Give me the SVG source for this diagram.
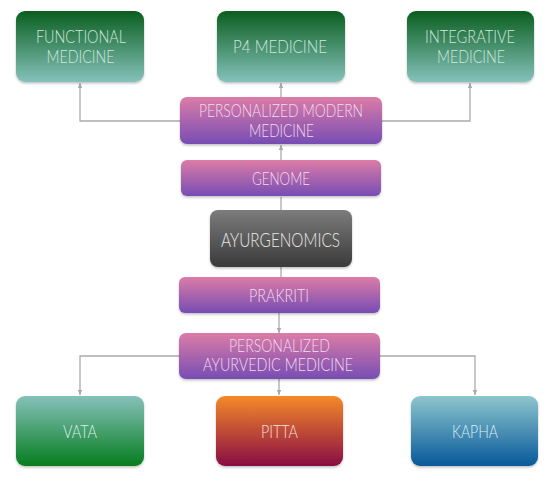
<svg xmlns="http://www.w3.org/2000/svg" width="550" height="481" viewBox="0 0 550 481">
<defs>
<linearGradient id="gGreen" x1="0" y1="0" x2="0" y2="1"><stop offset="0" stop-color="#0b5e1f"/><stop offset="1" stop-color="#84c2bb"/></linearGradient>
<linearGradient id="gPurple" x1="0" y1="0" x2="0" y2="1"><stop offset="0" stop-color="#dc7ca6"/><stop offset="1" stop-color="#774db4"/></linearGradient>
<linearGradient id="gGray" x1="0" y1="0" x2="0" y2="1"><stop offset="0" stop-color="#7c7c7c"/><stop offset="1" stop-color="#3a3a3a"/></linearGradient>
<linearGradient id="gVata" x1="0" y1="0" x2="0" y2="1"><stop offset="0" stop-color="#86c1bb"/><stop offset="1" stop-color="#067d1f"/></linearGradient>
<linearGradient id="gPitta" x1="0" y1="0" x2="0" y2="1"><stop offset="0" stop-color="#f58a28"/><stop offset="1" stop-color="#880d44"/></linearGradient>
<linearGradient id="gKapha" x1="0" y1="0" x2="0" y2="1"><stop offset="0" stop-color="#8ec6cd"/><stop offset="1" stop-color="#07589a"/></linearGradient>
<marker id="arr" markerWidth="6" markerHeight="6" refX="5" refY="3" orient="auto" markerUnits="userSpaceOnUse"><path d="M0,0.8 L5,3 L0,5.2 Z" fill="#a8a8a8"/></marker>
<filter id="sh" x="-10%" y="-10%" width="120%" height="130%"><feDropShadow dx="0" dy="1.5" stdDeviation="1.2" flood-color="#000" flood-opacity="0.25"/></filter>
</defs>
<style>
text{font-family:Lato,"Open Sans","Liberation Sans",sans-serif;font-size:17.5px;font-weight:300;text-anchor:middle}
.tg{fill:#cfe7dd}
.tp{fill:#f3dcee}
.tw{fill:#e8e8e8}
.tv{fill:#d9efe6}
.tk{fill:#d9eef2}
.tpi{fill:#f6dfe0}
.c{fill:none;stroke:#ababab;stroke-width:1.3}
</style>
<g id="connectors">
<path class="c" d="M181,121 H80 V83" marker-end="url(#arr)"/>
<path class="c" d="M382,121 H470 V83" marker-end="url(#arr)"/>
<path class="c" d="M281,97 V83" marker-end="url(#arr)"/>
<path class="c" d="M281,160 V145" marker-end="url(#arr)"/>
<path class="c" d="M281,210 V197"/>
<path class="c" d="M281,267 V277"/>
<path class="c" d="M279,313 V333" marker-end="url(#arr)"/>
<path class="c" d="M179,356 H80 V395" marker-end="url(#arr)"/>
<path class="c" d="M279,379 V395" marker-end="url(#arr)"/>
<path class="c" d="M380,356 H475 V395" marker-end="url(#arr)"/>
</g>
<g id="functional"><rect x="16" y="11" width="128" height="71" rx="9" fill="url(#gGreen)" filter="url(#sh)"/><text class="tg" x="81" y="42.7" textLength="90" lengthAdjust="spacingAndGlyphs">FUNCTIONAL</text><text class="tg" x="80.5" y="62.7" textLength="68" lengthAdjust="spacingAndGlyphs">MEDICINE</text></g>
<g id="p4"><rect x="217" y="11" width="128" height="71" rx="9" fill="url(#gGreen)" filter="url(#sh)"/><text class="tg" x="280" y="53.3" textLength="94" lengthAdjust="spacingAndGlyphs">P4 MEDICINE</text></g>
<g id="integrative"><rect x="407" y="11" width="127" height="71" rx="9" fill="url(#gGreen)" filter="url(#sh)"/><text class="tg" x="470" y="42.7" textLength="90" lengthAdjust="spacingAndGlyphs">INTEGRATIVE</text><text class="tg" x="471" y="62.7" textLength="68" lengthAdjust="spacingAndGlyphs">MEDICINE</text></g>
<g id="pmm"><rect x="180" y="97" width="202" height="47" rx="7" fill="url(#gPurple)" filter="url(#sh)"/><text class="tp" x="281" y="117" textLength="164" lengthAdjust="spacingAndGlyphs">PERSONALIZED MODERN</text><text class="tp" x="281.5" y="137" textLength="65" lengthAdjust="spacingAndGlyphs">MEDICINE</text></g>
<g id="genome"><rect x="181" y="160" width="200" height="36" rx="6" fill="url(#gPurple)" filter="url(#sh)"/><text class="tp" x="281" y="185" textLength="58" lengthAdjust="spacingAndGlyphs">GENOME</text></g>
<g id="ayurgenomics"><rect x="210" y="210" width="142" height="57" rx="8" fill="url(#gGray)" filter="url(#sh)"/><text class="tw" x="280.5" y="246.7" style="font-size:19.5px" textLength="119" lengthAdjust="spacingAndGlyphs">AYURGENOMICS</text></g>
<g id="prakriti"><rect x="179" y="277" width="201" height="36" rx="6" fill="url(#gPurple)" filter="url(#sh)"/><text class="tp" x="279" y="302" textLength="60" lengthAdjust="spacingAndGlyphs">PRAKRITI</text></g>
<g id="pam"><rect x="179" y="333" width="201" height="46" rx="7" fill="url(#gPurple)" filter="url(#sh)"/><text class="tp" x="279.5" y="352" textLength="101" lengthAdjust="spacingAndGlyphs">PERSONALIZED</text><text class="tp" x="278" y="371" textLength="150" lengthAdjust="spacingAndGlyphs">AYURVEDIC  MEDICINE</text></g>
<g id="vata"><rect x="16" y="396" width="128" height="70" rx="9" fill="url(#gVata)" filter="url(#sh)"/><text class="tv" x="80" y="438" textLength="34" lengthAdjust="spacingAndGlyphs">VATA</text></g>
<g id="pitta"><rect x="216" y="396" width="127" height="70" rx="9" fill="url(#gPitta)" filter="url(#sh)"/><text class="tpi" x="279.5" y="438" textLength="37" lengthAdjust="spacingAndGlyphs">PITTA</text></g>
<g id="kapha"><rect x="411" y="396" width="127" height="70" rx="9" fill="url(#gKapha)" filter="url(#sh)"/><text class="tk" x="475" y="437.5" textLength="46" lengthAdjust="spacingAndGlyphs">KAPHA</text></g>
</svg>
